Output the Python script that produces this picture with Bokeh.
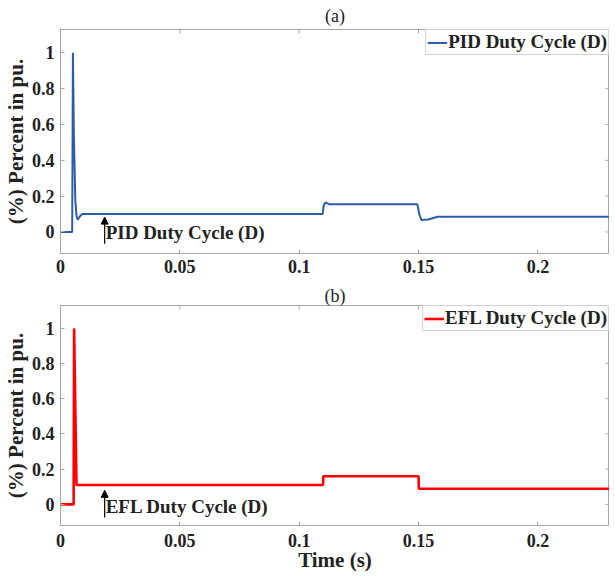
from bokeh.plotting import figure
from bokeh.layouts import column
from bokeh.models import (Range1d, FixedTicker, CustomJSTickFormatter,
                          Label, Arrow, NormalHead)
from bokeh.embed import file_html
from bokeh.resources import INLINE

# ---- data ----
pid_t = [0.0, 0.0049, 0.0052, 0.0056, 0.0062, 0.0067, 0.0072, 0.0080, 0.0090,
         0.1098, 0.1103, 0.1110, 0.1125, 0.1495, 0.1503, 0.1512, 0.1540, 0.1580, 0.23]
pid_d = [0.0, 0.0, 1.0, 0.55, 0.18, 0.09, 0.068, 0.085, 0.10,
         0.10, 0.15, 0.165, 0.155, 0.155, 0.10, 0.067, 0.070, 0.085, 0.085]

efl_t = [0.0, 0.0055, 0.0057, 0.0067, 0.1100, 0.1101, 0.1500, 0.1501, 0.23]
efl_d = [0.0, 0.0, 1.0, 0.11, 0.11, 0.16, 0.16, 0.089, 0.089]

x_ticks = [0, 0.05, 0.1, 0.15, 0.2]
y_ticks = [0, 0.2, 0.4, 0.6, 0.8, 1]

X0, X1 = 0.0, 0.23
Y0, Y1 = -0.12, 1.13

FONT = "Liberation Serif"
TXT = "#222222"
AX = "#a6a6a6"
TICK_PX = 4
W = 609


def make_fig(title, t, d, color, lw, legend, ann_text, height, bt, bb, tstand,
             ann_y0, ann_y1, xlabel=None):
    p = figure(width=W, height=height, output_backend="svg", toolbar_location=None,
               x_range=Range1d(X0, X1), y_range=Range1d(Y0, Y1),
               min_border_left=58, min_border_right=0, min_border_top=bt,
               min_border_bottom=bb)
    p.title.text = title
    p.title.align = "center"
    p.title.text_font = FONT
    p.title.text_font_style = "normal"
    p.title.text_font_size = "18px"
    p.title.text_color = TXT
    p.title.standoff = tstand
    p.title.offset = 0
    p.xgrid.visible = False
    p.ygrid.visible = False
    p.outline_line_color = AX
    p.background_fill_color = "white"

    for ax, ticks in ((p.xaxis[0], x_ticks), (p.yaxis[0], y_ticks)):
        ax.ticker = FixedTicker(ticks=ticks)
        ax.formatter = CustomJSTickFormatter(code="return String(tick)")
        ax.major_tick_in = TICK_PX
        ax.major_tick_out = 0
        ax.minor_tick_line_color = None
        ax.axis_line_color = AX
        ax.major_tick_line_color = AX
        ax.major_label_text_font = FONT
        ax.major_label_text_font_style = "bold"
        ax.major_label_text_font_size = "18px"
        ax.major_label_text_color = TXT
        ax.axis_label_text_font = FONT
        ax.axis_label_text_font_style = "bold"
        ax.axis_label_text_font_size = "21px"
        ax.axis_label_text_color = TXT
    p.yaxis[0].axis_label = "(%) Percent in pu."
    p.yaxis[0].major_label_standoff = 6
    p.yaxis[0].axis_label_standoff = 1
    p.xaxis[0].major_label_standoff = 6
    if xlabel:
        p.xaxis[0].axis_label = xlabel
        p.xaxis[0].major_label_standoff = 8
        p.xaxis[0].axis_label_standoff = -2

    fw = W - 60
    fh = height - bt - bb
    dy = TICK_PX * (Y1 - Y0) / fh
    dx = TICK_PX * (X1 - X0) / fw
    p.segment(x0=x_ticks, y0=[Y1] * len(x_ticks), x1=x_ticks, y1=[Y1 - dy] * len(x_ticks),
              line_color=AX, line_width=1)
    p.segment(x0=[X1] * len(y_ticks), y0=y_ticks, x1=[X1 - dx] * len(y_ticks), y1=y_ticks,
              line_color=AX, line_width=1)

    p.line(t, d, color=color, line_width=lw, legend_label=legend)
    lg = p.legend[0]
    lg.location = "top_right"
    lg.margin = 0
    lg.padding = 1
    lg.spacing = 0
    lg.border_line_color = AX
    lg.label_text_font = FONT
    lg.label_text_font_style = "bold"
    lg.label_text_font_size = "19px"
    lg.label_text_color = TXT
    lg.glyph_width = 20
    lg.glyph_height = 19
    lg.label_height = 19
    lg.label_standoff = 1

    p.add_layout(Arrow(end=NormalHead(size=7, fill_color="black", line_color="black"),
                       x_start=0.0185, y_start=ann_y0, x_end=0.0185, y_end=ann_y1,
                       line_color="black", line_width=1.2))
    p.add_layout(Label(x=0.0185, y=ann_y0, x_offset=1, y_offset=1, text=ann_text,
                       text_font=FONT, text_font_style="bold", text_font_size="19px",
                       text_color=TXT))
    return p


p1 = make_fig("(a)", pid_t, pid_d, "#2d5ca8", 2, "PID Duty Cycle (D)",
              "PID Duty Cycle (D)", 283, 28, 30, 7, -0.065, 0.083)
p2 = make_fig("(b)", efl_t, efl_d, "#ff0000", 2.6, "EFL Duty Cycle (D)",
              "EFL Duty Cycle (D)", 292, 18, 50, 0, -0.075, 0.08, xlabel="Time (s)")

layout = column(p1, p2, spacing=0)
open("out.html", "w").write(file_html(layout, INLINE))
